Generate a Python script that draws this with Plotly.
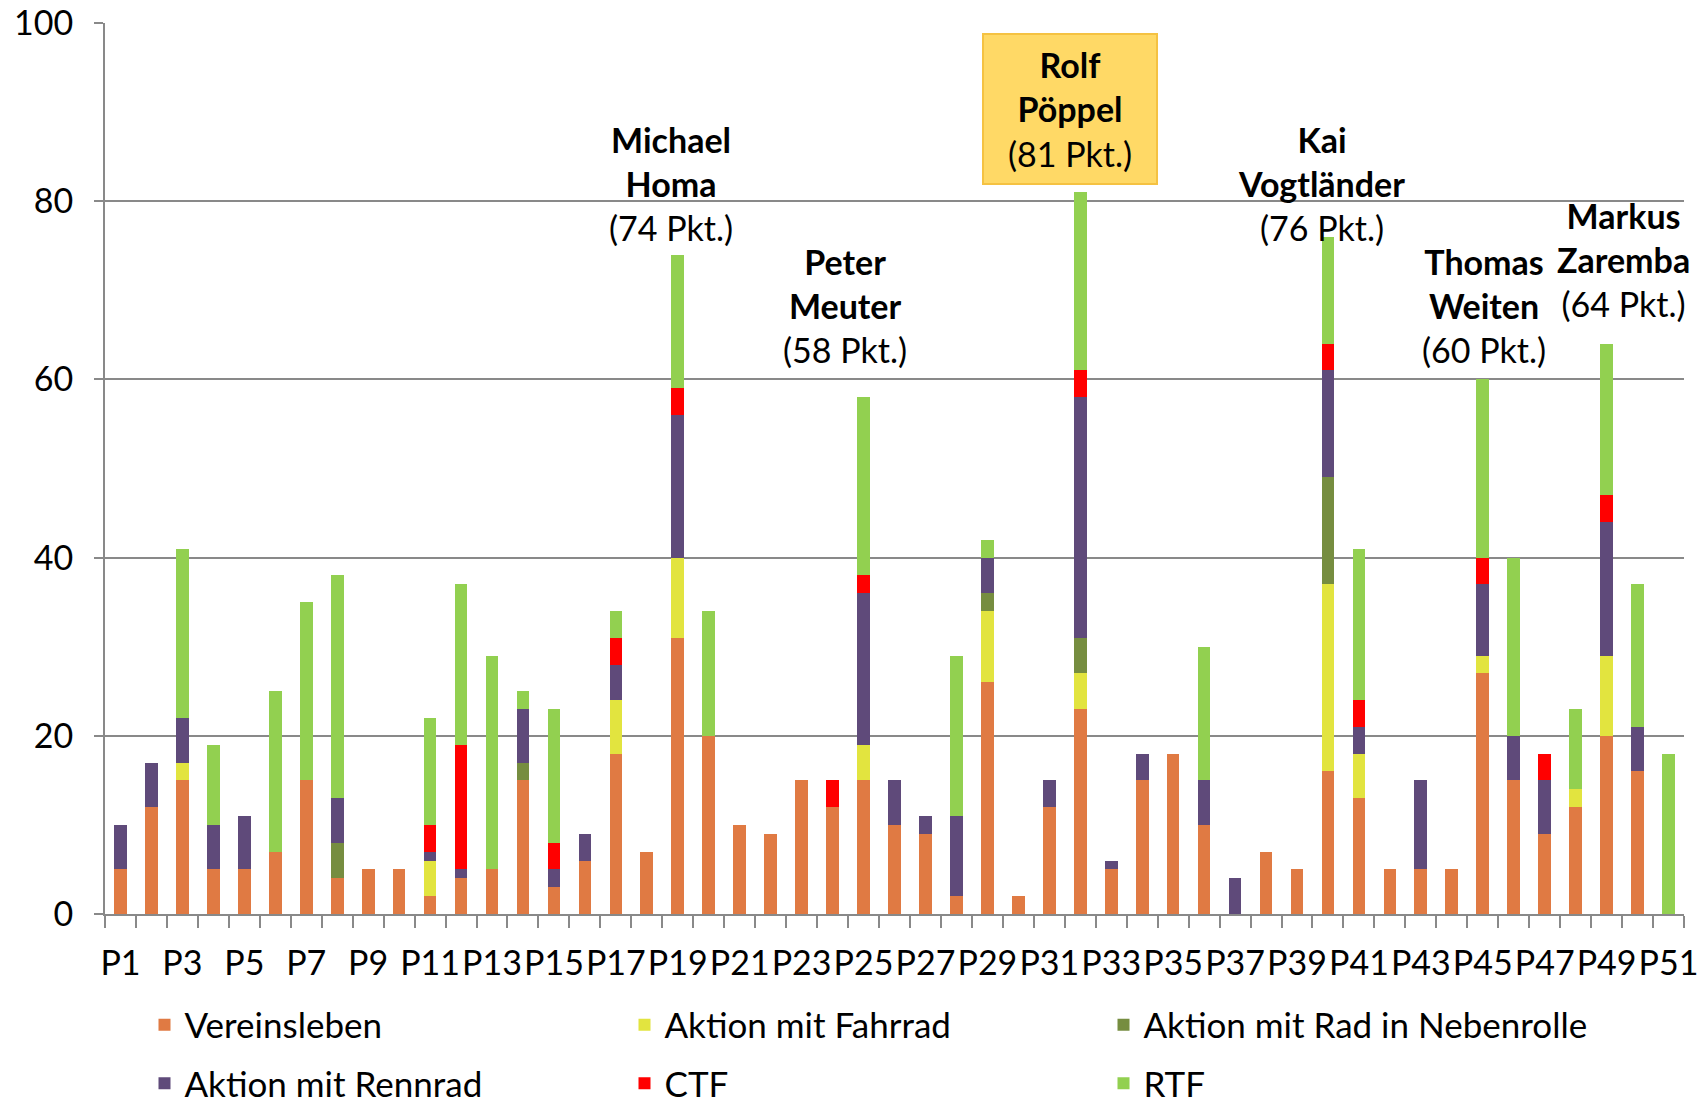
import plotly.graph_objects as go

categories = [f"P{i}" for i in range(1, 52)]
tick_labels = [c if i % 2 == 0 else "" for i, c in enumerate(categories)]

vereinsleben = [5,12,15,5,5,7,15,4,5,5, 2,4,5,15,3,6,18,7,31,20, 10,9,15,12,15,10,9,2,26,2,
                12,23,5,15,18,10,0,7,5,16, 13,5,5,5,27,15,9,12,20,16, 0]
fahrrad = [0,0,2,0,0,0,0,0,0,0, 4,0,0,0,0,0,6,0,9,0, 0,0,0,0,4,0,0,0,8,0,
           0,4,0,0,0,0,0,0,0,21, 5,0,0,0,2,0,0,2,9,0, 0]
nebenrolle = [0,0,0,0,0,0,0,4,0,0, 0,0,0,2,0,0,0,0,0,0, 0,0,0,0,0,0,0,0,2,0,
              0,4,0,0,0,0,0,0,0,12, 0,0,0,0,0,0,0,0,0,0, 0]
rennrad = [5,5,5,5,6,0,0,5,0,0, 1,1,0,6,2,3,4,0,16,0, 0,0,0,0,17,5,2,9,4,0,
           3,27,1,3,0,5,4,0,0,12, 3,0,10,0,8,5,6,0,15,5, 0]
ctf = [0,0,0,0,0,0,0,0,0,0, 3,14,0,0,3,0,3,0,3,0, 0,0,0,3,2,0,0,0,0,0,
       0,3,0,0,0,0,0,0,0,3, 3,0,0,0,3,0,3,0,3,0, 0]
rtf = [0,0,19,9,0,18,20,25,0,0, 12,18,24,2,15,0,3,0,15,14, 0,0,0,0,20,0,0,18,2,0,
       0,20,0,0,0,15,0,0,0,12, 17,0,0,0,20,20,0,9,17,16, 18]

series_names = ["Vereinsleben", "Aktion mit Fahrrad", "Aktion mit Rad in Nebenrolle",
                "Aktion mit Rennrad", "CTF", "RTF"]
series_values = [vereinsleben, fahrrad, nebenrolle, rennrad, ctf, rtf]
series_colors = ["#E07A43", "#E2E43F", "#768D40", "#5F4A7A", "#FF0000", "#92D050"]
# legend column for each series (3 columns x 2 rows)
legend_ids = ["legend", "legend2", "legend3", "legend", "legend2", "legend3"]

# highlighted participants
highlight_first = ["Michael", "Peter", "Rolf", "Kai", "Thomas", "Markus"]
highlight_last = ["Homa", "Meuter", "Pöppel", "Vogtländer", "Weiten", "Zaremba"]
highlight_cat = ["P19", "P25", "P32", "P40", "P45", "P49"]

FONT = "Lato"
FS = 34

fig = go.Figure()
for name, vals, col, lg in zip(series_names, series_values, series_colors, legend_ids):
    fig.add_trace(go.Bar(x=categories, y=vals, name=name, marker_color=col,
                         marker_line_width=0, legend=lg, legendgroup=name))

totals = [sum(s[i] for s in series_values) for i in range(len(categories))]

# label positions (layout only)
label_y = [82.0, 68.3, 90.4, 82.0, 68.3, 73.5]
label_xshift = [-7, -19, -10, -6, 1, 17]
for fn, ln, cat, ly, xs in zip(highlight_first, highlight_last, highlight_cat, label_y, label_xshift):
    tot = totals[categories.index(cat)]
    txt = f"<b>{fn}</b><br><b>{ln}</b><br>({tot} Pkt.)"
    kw = {}
    if fn == "Rolf":
        kw = dict(bgcolor="#FFD966", bordercolor="#F5C242", borderwidth=2,
                  width=172, height=148, borderpad=0)
    fig.add_annotation(x=cat, y=ly, xref="x", yref="y", text=txt, showarrow=False,
                       xshift=xs, yanchor="middle", align="center",
                       font=dict(family=FONT, size=FS, color="black"), **kw)

grid_col = "#898989"
legend_common = dict(orientation="v", xref="container", yref="container",
                     xanchor="left", yanchor="middle", tracegroupgap=10,
                     font=dict(family=FONT, size=35), y=1 - 1054 / 1106,
                     traceorder="grouped", bgcolor="rgba(0,0,0,0)")
fig.update_layout(
    width=1706, height=1106,
    margin=dict(l=105, r=22, t=23, b=192, autoexpand=False),
    barmode="stack", bargap=0.59,
    plot_bgcolor="white", paper_bgcolor="white",
    font=dict(family=FONT, size=FS, color="black"),
    xaxis=dict(type="category", tickmode="array", tickvals=categories, ticktext=tick_labels,
               tickson="boundaries", ticks="outside", ticklen=12, tickwidth=2, tickcolor=grid_col,
               showline=True, linecolor=grid_col, linewidth=2, showgrid=False, tickangle=0,
               automargin=False, ticklabelstandoff=18,
               tickfont=dict(family=FONT, size=FS, color="black"), range=[-0.5, 50.5]),
    yaxis=dict(range=[0, 100], tickvals=[0, 20, 40, 60, 80, 100], showgrid=True,
               gridcolor=grid_col, gridwidth=2, ticks="outside", ticklen=9, tickwidth=2,
               tickcolor=grid_col, showline=True, linecolor=grid_col, linewidth=2,
               zeroline=False, automargin=False, ticklabelstandoff=14,
               tickfont=dict(family=FONT, size=FS, color="black")),
    legend=dict(x=144.5 / 1706, **legend_common),
    legend2=dict(x=624.5 / 1706, **legend_common),
    legend3=dict(x=1103.5 / 1706, **legend_common),
    showlegend=True,
)

fig.write_html("out.html", config={"displayModeBar": False},
               post_script="document.body.style.margin='0';")
